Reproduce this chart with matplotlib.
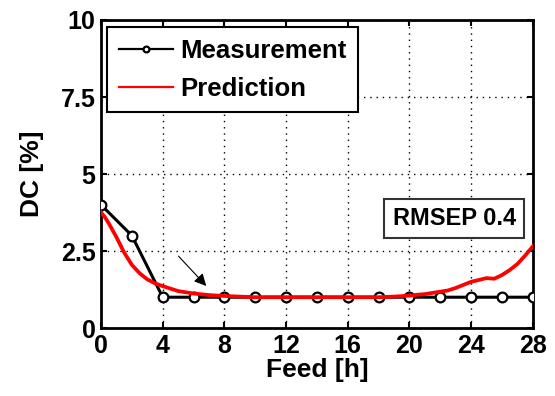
import matplotlib
matplotlib.use("Agg")
import matplotlib.pyplot as plt

plt.rcParams["font.family"] = ["Liberation Sans", "DejaVu Sans"]
plt.rcParams["font.weight"] = "bold"

# measured DC every 2 h of feed
meas_t = [0, 2, 4, 6, 8, 10, 12, 14, 16, 18, 20, 22, 24, 26, 28]
meas_dc = [4.0, 3.0, 1.0, 1.0, 1.0, 1.0, 1.0, 1.0, 1.0, 1.0, 1.0, 1.0, 1.0, 1.0, 1.0]

# model prediction
pred_t = [0, 0.25, 0.5, 1, 1.5, 2, 2.5, 3, 3.5, 4, 4.5, 5, 6, 7, 8, 9, 10, 12, 14, 16,
          18, 19, 20, 20.5, 21, 21.5, 22, 22.5, 23, 23.5, 24, 24.5, 25, 25.5, 26,
          26.5, 27, 27.5, 28]
pred_dc = [3.75, 3.6, 3.4, 2.95, 2.45, 2.05, 1.78, 1.58, 1.45, 1.36, 1.28, 1.2, 1.12,
           1.07, 1.04, 1.02, 1.0, 1.0, 1.0, 1.0, 1.0, 1.02, 1.05, 1.08, 1.1, 1.14,
           1.18, 1.22, 1.3, 1.4, 1.5, 1.56, 1.62, 1.6, 1.72, 1.88, 2.08, 2.35, 2.65]

rmsep = 0.4
xticks = [0, 4, 8, 12, 16, 20, 24, 28]
yticks = [0, 2.5, 5, 7.5, 10]
ytick_labels = ["0", "2.5", "5", "7.5", "10"]

fig = plt.figure(figsize=(5.55, 3.96), dpi=100)
ax = fig.add_axes([0.182, 0.1717, 0.778, 0.7778])

ax.plot(meas_t, meas_dc, color="black", lw=2.2, marker="o", ms=7,
        mfc="white", mec="black", mew=1.6, label="Measurement", zorder=3)
ax.plot(pred_t, pred_dc, color="red", lw=2.7, label="Prediction", zorder=4)

ax.annotate("", xy=(6.95, 1.3), xytext=(4.9, 2.4),
            arrowprops=dict(arrowstyle="-|>", color="black", lw=0.8,
                            mutation_scale=18))

ax.text(22.9, 3.55, f"RMSEP {rmsep}", fontsize=17, fontweight="bold",
        ha="center", va="center",
        bbox=dict(boxstyle="square,pad=0.35", fc="white", ec="#333333", lw=1.5))

ax.set_xlim(0, 28)
ax.set_ylim(0, 10)
ax.set_xticks(xticks)
ax.set_yticks(yticks)
ax.set_yticklabels(ytick_labels)
ax.tick_params(direction="in", length=4, width=1.5, labelsize=18,
               top=True, right=True, pad=4)
for lab in ax.get_xticklabels() + ax.get_yticklabels():
    lab.set_fontweight("bold")
for sp in ax.spines.values():
    sp.set_linewidth(2)

ax.grid(True, color="black", linestyle=(0, (1, 3.5)), lw=1)

ax.set_xlabel("Feed [h]", fontsize=19, fontweight="bold", labelpad=0)
ax.set_ylabel("DC [%]", fontsize=19, fontweight="bold", labelpad=12)

leg = ax.legend(loc="upper left", bbox_to_anchor=(0.014, 0.977), fontsize=18.5,
                frameon=True, fancybox=False, edgecolor="black", framealpha=1,
                handlelength=2.1, handletextpad=0.3, labelspacing=0.55,
                borderpad=0.45, markerscale=0.6, borderaxespad=0)
leg.get_frame().set_linewidth(1.5)
for line in leg.get_lines():
    line.set_linewidth(1.6)
for t in leg.get_texts():
    t.set_fontweight("bold")

fig.savefig("out.png", dpi=100)
